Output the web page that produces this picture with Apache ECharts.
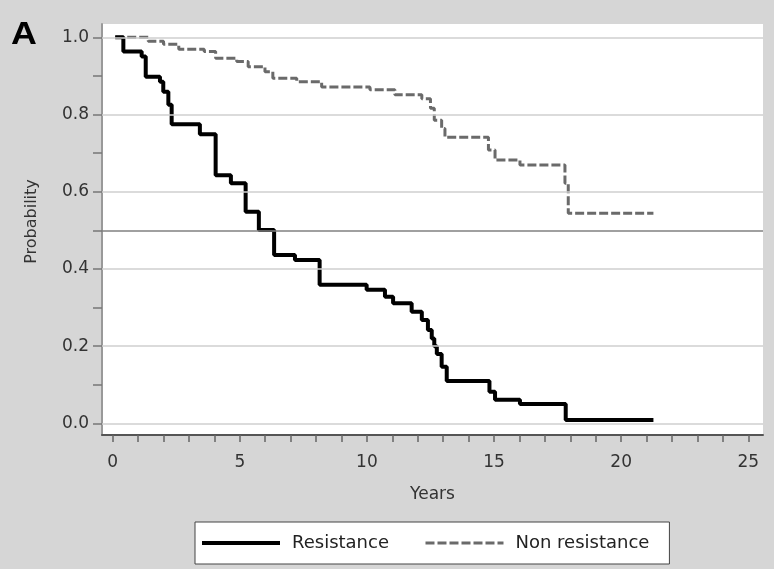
<!DOCTYPE html>
<html>
<head>
<meta charset="utf-8">
<script src="https://cdn.jsdelivr.net/npm/echarts@6/dist/echarts.min.js"></script>
<style>
  html, body { margin: 0; padding: 0; background: #d6d6d6; }
  #chart { width: 774px; height: 569px; }
</style>
</head>
<body>
<div id="chart"></div>
<script>
// survival curves (time in years, probability after the step)
var resTime = [0.1, 0.42, 1.14, 1.3, 1.86, 1.99, 2.19, 2.32, 3.43, 4.05, 4.65, 5.23, 5.75, 6.35, 7.17, 8.14, 9.99, 10.71, 11.03, 11.76, 12.16, 12.4, 12.55, 12.65, 12.75, 12.94, 13.14, 14.82, 15.04, 16.02, 17.82, 21.27];
var resProb = [1.0, 0.963, 0.95, 0.898, 0.885, 0.859, 0.825, 0.775, 0.749, 0.643, 0.622, 0.548, 0.501, 0.436, 0.423, 0.359, 0.346, 0.328, 0.311, 0.289, 0.268, 0.242, 0.22, 0.2, 0.18, 0.147, 0.11, 0.082, 0.061, 0.05, 0.009, 0.009];

var nonTime = [0.1, 1.4, 2.0, 2.6, 3.6, 4.05, 4.88, 5.33, 5.99, 6.3, 7.24, 8.22, 10.12, 11.1, 12.16, 12.5, 12.65, 12.94, 13.07, 14.78, 15.04, 16.02, 17.79, 17.92, 21.27];
var nonProb = [1.0, 0.99, 0.982, 0.969, 0.963, 0.946, 0.937, 0.924, 0.911, 0.894, 0.885, 0.871, 0.864, 0.851, 0.841, 0.816, 0.785, 0.764, 0.741, 0.708, 0.682, 0.669, 0.622, 0.544, 0.544];

var seriesNames = ["Resistance", "Non resistance"];

// axis ticks and labels
var xTicks = [0, 1, 2, 3, 4, 5, 6, 7, 8, 9, 10, 11, 12, 13, 14, 15, 16, 17, 18, 19, 20, 21, 22, 23, 24, 25];
var xLabels = [0, 5, 10, 15, 20, 25];
var yTicks = [0, 0.1, 0.2, 0.3, 0.4, 0.5, 0.6, 0.7, 0.8, 0.9, 1.0];
var yLabels = [0, 0.2, 0.4, 0.6, 0.8, 1.0];
var gridVals = [0, 0.2, 0.4, 0.6, 0.8, 1.0];
var refLine = 0.5;

function pairs(xs, ys) {
  return xs.map(function (x, i) { return [x, ys[i]]; });
}

var myChart = echarts.init(document.getElementById("chart"));

myChart.setOption({
  animation: false,
  backgroundColor: "#d6d6d6",
  textStyle: { fontFamily: "DejaVu Sans" },
  graphic: [
    {
      type: "text",
      left: 11,
      top: 19,
      scaleX: 1.12,
      style: {
        text: "A",
        font: "bold 32px 'Liberation Sans'",
        fill: "#000"
      }
    }
  ],
  grid: {
    left: 102,
    right: 11,
    top: 24,
    bottom: 134,
    show: true,
    backgroundColor: "#ffffff",
    borderWidth: 0
  },
  legend: {
    left: 195,
    top: 522,
    orient: "horizontal",
    backgroundColor: "#ffffff",
    borderColor: "#444444",
    borderWidth: 1,
    borderRadius: 0,
    padding: [12, 20, 12, 5],
    itemWidth: 78,
    itemHeight: 16,
    itemGap: 35,
    data: [
      {
        name: seriesNames[0],
        itemStyle: { opacity: 0 },
        lineStyle: { color: "#000000", width: 4, type: "solid" }
      },
      {
        name: seriesNames[1],
        itemStyle: { opacity: 0 },
        lineStyle: { color: "#6a6a6a", width: 3, type: [9, 3] }
      }
    ],
    textStyle: {
      fontFamily: "DejaVu Sans",
      fontSize: 18,
      color: "#222",
      padding: [0, 0, 0, 7]
    }
  },
  xAxis: {
    type: "value",
    min: -0.42,
    max: 25.58,
    name: "Years",
    nameLocation: "middle",
    nameGap: 51,
    nameTextStyle: { fontSize: 17, color: "#333" },
    axisLine: { show: true, onZero: false, lineStyle: { color: "#555", width: 2 } },
    axisTick: {
      show: true,
      inside: false,
      length: 7,
      customValues: xTicks,
      lineStyle: { color: "#666", width: 1.5 }
    },
    axisLabel: {
      show: true,
      margin: 19,
      fontSize: 17,
      color: "#333",
      customValues: xLabels,
      formatter: "{value}"
    },
    splitLine: { show: false }
  },
  yAxis: {
    type: "value",
    min: -0.03,
    max: 1.0344,
    name: "Probability",
    nameLocation: "middle",
    nameGap: 62,
    nameTextStyle: { fontSize: 16, color: "#333", padding: [0, 0, 0, 16] },
    axisLine: { show: true, onZero: false, lineStyle: { color: "#999", width: 2 } },
    axisTick: {
      show: true,
      inside: false,
      length: 9,
      customValues: yTicks,
      lineStyle: { color: "#777", width: 1.5 }
    },
    axisLabel: {
      show: true,
      margin: 13,
      fontSize: 17,
      color: "#333",
      customValues: yLabels,
      formatter: function (v) { return v.toFixed(1); }
    },
    splitLine: { show: false }
  },
  series: [
    {
      // gridlines and the 0.5 reference line
      name: "grid",
      type: "line",
      data: [],
      z: 1,
      silent: true,
      markLine: {
        silent: true,
        symbol: "none",
        label: { show: false },
        data: gridVals.map(function (v) {
          return { yAxis: v, lineStyle: { color: "#cfcfcf", width: 1.5, type: "solid" } };
        }).concat([{ yAxis: refLine, lineStyle: { color: "#808080", width: 1.5, type: "solid" } }])
      }
    },
    {
      name: seriesNames[0],
      type: "line",
      step: "end",
      symbol: "none",
      z: 3,
      data: pairs(resTime, resProb),
      itemStyle: { color: "#000000" },
      lineStyle: { color: "#000000", width: 4 }
    },
    {
      name: seriesNames[1],
      type: "line",
      step: "end",
      symbol: "none",
      z: 2,
      data: pairs(nonTime, nonProb),
      itemStyle: { color: "#6a6a6a" },
      lineStyle: { color: "#6a6a6a", width: 3, type: [9, 3] }
    }
  ]
});
</script>
</body>
</html>
